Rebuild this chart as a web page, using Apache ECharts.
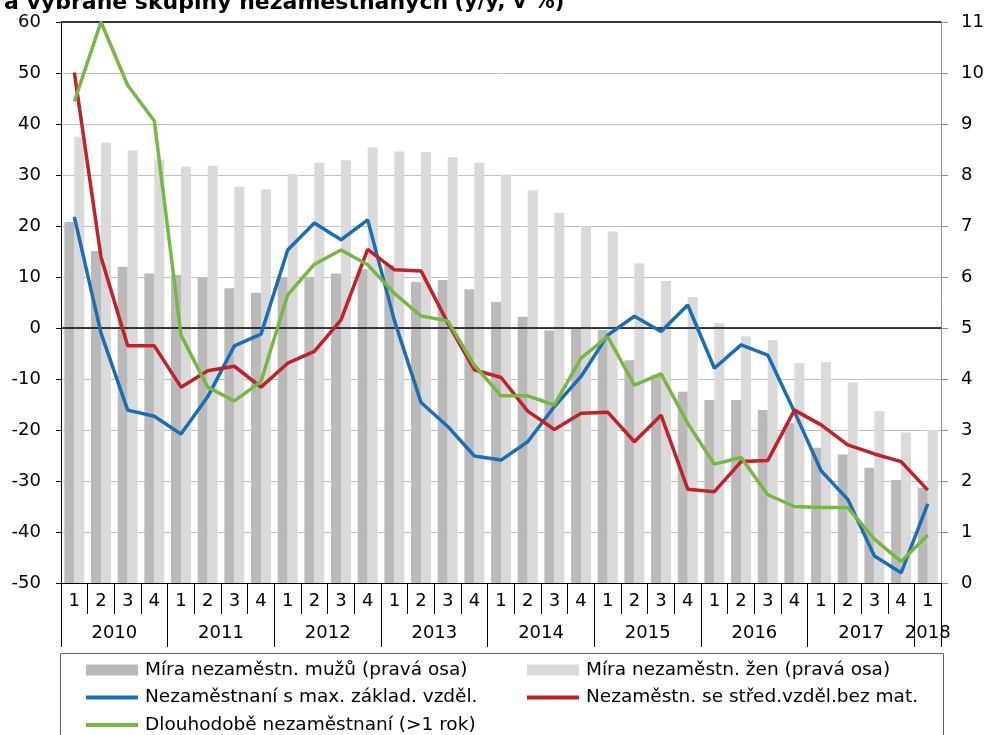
<!DOCTYPE html>
<html>
<head>
<meta charset="utf-8">
<script src="https://cdn.jsdelivr.net/npm/echarts@6/dist/echarts.min.js"></script>
<style>
	html, body { margin: 0; padding: 0; background: #fff; }
	#chart { width: 987px; height: 735px; }
</style>
</head>
<body>
<div id="chart"></div>
<script>
	/*---data---*/
	var years = ['2010', '2011', '2012', '2013', '2014', '2015', '2016', '2017', '2018'];
	var quartersPerYear = [4, 4, 4, 4, 4, 4, 4, 4, 1];

	var menRate = [7.08, 6.51, 6.2, 6.07, 6.04, 6.0, 5.78, 5.69, 6.0, 6.0, 6.07, 6.15, 6.24, 5.9, 5.94, 5.76,
		5.51, 5.22, 4.95, 4.98, 4.96, 4.37, 4.08, 3.75, 3.59, 3.59, 3.39, 3.13, 2.65, 2.52, 2.26, 2.02, 1.87];
	var womenRate = [8.75, 8.63, 8.48, 8.29, 8.16, 8.18, 7.77, 7.72, 8.02, 8.24, 8.29, 8.54, 8.46, 8.45, 8.35, 8.24,
		8.01, 7.7, 7.26, 7.0, 6.89, 6.27, 5.92, 5.61, 5.1, 4.84, 4.76, 4.31, 4.33, 3.93, 3.37, 2.95, 3.0];
	var basicEdu = [21.8, -1.0, -16.1, -17.3, -20.8, -13.5, -3.5, -1.2, 15.3, 20.6, 17.3, 21.2, 1.5, -14.6, -19.3, -25.1,
		-25.9, -22.3, -15.4, -9.5, -1.4, 2.3, -0.7, 4.5, -7.9, -3.3, -5.3, -16.4, -28.0, -33.6, -44.7, -48.0, -34.5];
	var secondaryEdu = [50.1, 13.9, -3.5, -3.5, -11.6, -8.4, -7.5, -11.6, -6.9, -4.6, 1.6, 15.4, 11.4, 11.2, 1.0, -8.2,
		-9.7, -16.3, -19.9, -16.7, -16.5, -22.3, -17.1, -31.6, -32.1, -26.2, -26.0, -16.1, -19.0, -22.9, -24.7, -26.2, -31.8];
	var longTerm = [44.4, 60, 47.6, 40.6, -1.4, -11.6, -14.3, -10.5, 6.5, 12.5, 15.3, 12.4, 6.8, 2.35, 1.4, -7.3,
		-13.3, -13.3, -15.1, -5.9, -1.7, -11.2, -9.0, -18.7, -26.7, -25.4, -32.7, -35.0, -35.2, -35.2, -41.4, -45.8, -40.6];

	var names = [
		'Míra nezaměstn. mužů (pravá osa)',
		'Míra nezaměstn. žen (pravá osa)',
		'Nezaměstnaní s max. základ. vzděl.',
		'Nezaměstn. se střed.vzděl.bez mat.',
		'Dlouhodobě nezaměstnaní (>1 rok)'
	];

	// quarter labels + year tick / label positions on the secondary axis
	var quarterLabels = [];
	var yearTicks = [0];
	var yearCenters = [];
	var pos = 0;
	for (var i = 0; i < years.length; i++) {
		for (var q = 1; q <= quartersPerYear[i]; q++) {
			quarterLabels.push(String(q));
		}
		yearCenters.push(pos + quartersPerYear[i] / 2);
		pos += quartersPerYear[i];
		yearTicks.push(pos);
	}

	var font = "'DejaVu Sans', 'Liberation Sans', Arial, sans-serif";
	var legendText = { fontSize: 18.5, lineHeight: 20, color: '#000', fontFamily: font, padding: [0, 0, 0, 2] };

	function legendBox(left, top, data, h) {
		return {
			left: left,
			top: top,
			orient: 'vertical',
			itemWidth: 52,
			itemHeight: h,
			itemGap: 7.5,
			padding: 0,
			icon: 'rect',
			data: data,
			textStyle: legendText
		};
	}

	/*---echart (#chart)---*/
	var myChart = echarts.init(document.getElementById('chart'));
	var option = {
		animation: false,
		textStyle: {
			fontFamily: font
		},
		title: {
			text: '{b|a vybrané skupiny nezaměstnaných} {n|(y/y, v %)}',
			left: -1,
			top: -13,
			textStyle: {
				rich: {
					b: { fontSize: 22, fontWeight: 'bold', color: '#000', fontFamily: font },
					n: { fontSize: 21, color: '#000', fontFamily: font }
				}
			}
		},
		grid: {
			left: 61,
			right: 44,
			top: 22,
			bottom: 152,
			containLabel: false
		},
		legend: [
			legendBox(86, 660, [names[0]], 11),
			legendBox(527, 660, [names[1]], 11),
			legendBox(86, 687.5, [names[2], names[4]], 4),
			legendBox(527, 687.5, [names[3]], 4)
		],
		graphic: [{
			type: 'rect',
			shape: { x: 60.5, y: 653.5, width: 883, height: 100 },
			style: { fill: 'none', stroke: '#666', lineWidth: 1 },
			silent: true
		}],
		xAxis: [{
			type: 'category',
			data: quarterLabels,
			position: 'bottom',
			axisLine: { onZero: false, lineStyle: { color: '#000', width: 1 } },
			axisTick: { show: true, interval: 0, length: 31, lineStyle: { color: '#000' } },
			axisLabel: { interval: 0, margin: 9, fontSize: 18, color: '#000' }
		}, {
			type: 'value',
			min: 0,
			max: pos,
			position: 'bottom',
			axisLine: { show: false, onZero: false },
			splitLine: { show: false },
			axisTick: { show: true, length: 64, customValues: yearTicks, lineStyle: { color: '#000' } },
			axisLabel: {
				customValues: yearCenters,
				margin: 41,
				fontSize: 18,
				color: '#000',
				formatter: function(v) {
					var k = yearCenters.indexOf(v);
					return k >= 0 ? years[k] : '';
				}
			}
		}],
		yAxis: [{
			type: 'value',
			min: -50,
			max: 60,
			interval: 10,
			axisLine: { show: true, lineStyle: { color: '#000' } },
			axisTick: { show: true, length: 5, lineStyle: { color: '#000' } },
			axisLabel: { fontSize: 18, color: '#000', margin: 20 },
			splitLine: { show: true, lineStyle: { color: '#c0c0c0', width: 1 } }
		}, {
			type: 'value',
			min: 0,
			max: 11,
			interval: 1,
			position: 'right',
			axisLine: { show: true, lineStyle: { color: '#8c8c8c' } },
			axisTick: { show: true, length: 7, lineStyle: { color: '#8c8c8c' } },
			axisLabel: { fontSize: 18, color: '#000', margin: 20 },
			splitLine: { show: false }
		}],
		series: [{
			name: names[0],
			type: 'bar',
			yAxisIndex: 1,
			barWidth: 10,
			barGap: '0%',
			itemStyle: { color: '#bababa' },
			data: menRate
		}, {
			name: names[1],
			type: 'bar',
			yAxisIndex: 1,
			barWidth: 10,
			barGap: '0%',
			itemStyle: { color: '#dadada' },
			data: womenRate
		}, {
			name: names[2],
			type: 'line',
			yAxisIndex: 0,
			symbol: 'none',
			z: 5,
			lineStyle: { color: '#1a6fb4', width: 3.5 },
			itemStyle: { color: '#1a6fb4' },
			markLine: {
				silent: true,
				symbol: 'none',
				label: { show: false },
				lineStyle: { color: '#000', width: 1.5, type: 'solid' },
				data: [{ yAxis: 0 }, { yAxis: 60 }]
			},
			data: basicEdu
		}, {
			name: names[3],
			type: 'line',
			yAxisIndex: 0,
			symbol: 'none',
			z: 5,
			lineStyle: { color: '#c0212a', width: 3.5 },
			itemStyle: { color: '#c0212a' },
			data: secondaryEdu
		}, {
			name: names[4],
			type: 'line',
			yAxisIndex: 0,
			symbol: 'none',
			z: 5,
			lineStyle: { color: '#77b843', width: 3.5 },
			itemStyle: { color: '#77b843' },
			data: longTerm
		}]
	};
	myChart.setOption(option);
	/*---echart (#chart) closed---*/
</script>
</body>
</html>
